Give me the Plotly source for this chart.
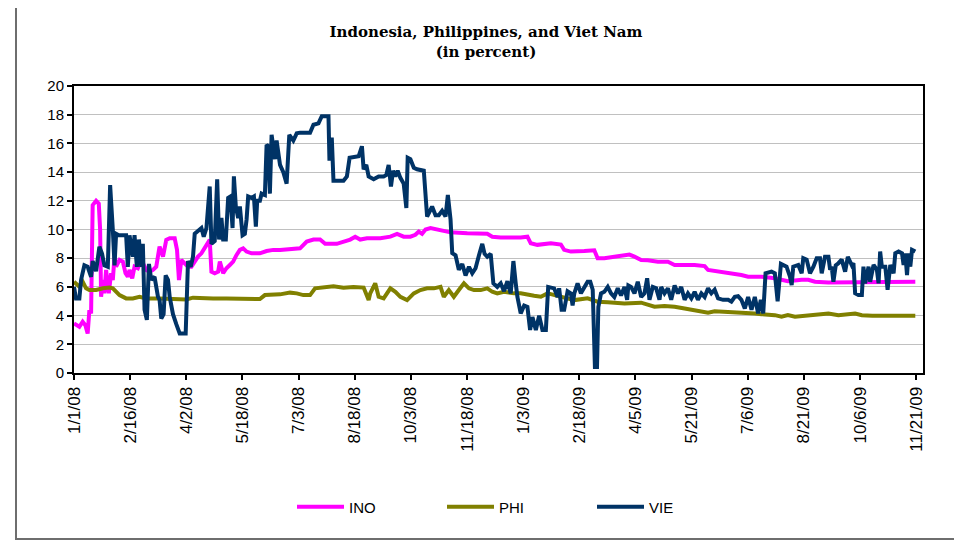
import pandas as pd
import plotly.graph_objects as go

START = pd.Timestamp("2008-01-01")

# Day offsets from 1/1/08 and values (percent)
INO_days = [0, 4.4, 7.1, 9.3, 11.2, 12.6, 14.0, 15.3, 18.1, 20.3,
            21.4, 22.2, 23.6, 24.9, 26.3, 28.5, 30.4, 31.8, 33.2, 34.5,
            37.3, 40.0, 42.2, 44.1, 45.5, 47.7, 49.6, 52.3, 55.1, 59.2,
            61.9, 64.7, 67.4, 70.1, 72.9, 75.6, 78.4, 82.5, 84.4, 86.0,
            87.9, 90.7, 93.4, 96.2, 98.9, 101.6, 104.4, 107.1, 108.5, 111.2,
            112.6, 115.3, 118.1, 119.5, 122.2, 124.9, 127.7, 130.4, 133.2, 135.9,
            138.6, 141.4, 145.5, 152.3, 157.8, 163.3, 168.8, 179.7, 185.2, 190.7,
            196.2, 201.6, 205.8, 215.3, 220.8, 226.3, 230.4, 234.5, 240.0, 251.0,
            259.2, 264.7, 270.1, 275.6, 279.7, 282.5, 285.2, 288.0, 292.1, 297.5,
            303.0, 308.5, 322.2, 338.6, 342.7, 349.6, 366.0, 371.5, 374.2, 379.7,
            390.7, 398.9, 401.6, 407.1, 418.1, 426.3, 429.0, 434.5, 442.7, 455.1,
            459.2, 464.7, 470.1, 478.4, 486.6, 492.1, 508.5, 516.7, 519.5, 530.4,
            536.0, 546.8, 552.3, 563.3, 574.2, 579.7, 584.9, 596.2, 601.6, 607.1,
            618.1, 689.3]
INO_vals = [3.45, 3.22, 3.57, 3.33, 2.75, 4.38, 4.15, 11.7, 12.0, 11.8,
            10.0, 5.31, 6.48, 5.55, 7.18, 5.55, 6.95, 6.48, 8.11, 7.41,
            7.88, 7.76, 6.95, 6.71, 7.18, 6.6, 7.41, 7.3, 7.88, 7.18,
            7.06, 7.18, 7.41, 8.81, 8.11, 9.28, 9.39, 9.39, 8.58, 6.48,
            7.88, 7.65, 7.41, 7.41, 7.76, 8.11, 8.34, 8.69, 8.81, 9.28,
            7.06, 6.95, 7.06, 7.76, 6.95, 7.3, 7.53, 7.76, 8.23, 8.58,
            8.69, 8.46, 8.34, 8.34, 8.5, 8.58, 8.58, 8.69, 8.69, 9.16,
            9.3, 9.3, 9.0, 9.0, 9.16, 9.3, 9.5, 9.3, 9.39, 9.39,
            9.5, 9.7, 9.5, 9.5, 9.63, 9.86, 9.7, 10.0, 10.1, 10.0,
            9.9, 9.8, 9.74, 9.7, 9.5, 9.45, 9.45, 9.5, 9.04, 8.93,
            9.04, 8.95, 8.58, 8.46, 8.5, 8.55, 8.0, 8.0, 8.1, 8.25,
            8.11, 7.88, 7.85, 7.76, 7.76, 7.53, 7.53, 7.45, 7.18, 7.06,
            6.95, 6.83, 6.71, 6.71, 6.6, 6.48, 6.4, 6.5, 6.5, 6.36,
            6.3, 6.36]

PHI_days = [0, 4.4, 7.1, 9.9, 12.6, 18.1, 23.6, 29.0, 31.8, 34.5,
            37.3, 42.7, 48.2, 53.7, 59.2, 70.1, 83.8, 92.1, 97.5, 106.3,
            114.0, 124.9, 138.6, 152.3, 156.4, 163.3, 168.8, 177.0, 182.5, 187.9,
            193.4, 197.5, 204.4, 212.6, 220.8, 229.0, 237.3, 241.4, 242.7, 246.8,
            249.6, 253.7, 259.2, 263.3, 267.4, 272.9, 278.4, 283.8, 289.3, 294.8,
            300.3, 303.0, 307.1, 311.2, 315.3, 319.5, 323.6, 327.7, 333.2, 338.6,
            342.7, 346.8, 352.3, 360.5, 366.0, 371.5, 377.0, 382.5, 388.0, 390.7,
            398.9, 409.9, 420.8, 429.0, 437.3, 451.0, 464.7, 475.6, 483.8, 492.1,
            500.3, 508.5, 514.0, 519.5, 524.9, 533.2, 541.4, 549.6, 557.8, 563.3,
            574.2, 579.7, 584.9, 590.7, 596.2, 604.4, 612.6, 618.1, 626.3, 634.5,
            640.0, 645.5, 654.0, 689.3]
PHI_vals = [6.36, 6.01, 6.36, 5.9, 5.78, 5.78, 5.9, 5.95, 5.9, 5.66,
            5.43, 5.2, 5.2, 5.31, 5.2, 5.2, 5.2, 5.13, 5.25, 5.2,
            5.2, 5.2, 5.15, 5.15, 5.43, 5.43, 5.48, 5.6, 5.55, 5.43,
            5.43, 5.9, 5.95, 6.05, 5.95, 6.0, 5.95, 5.08, 5.55, 6.25,
            5.31, 5.2, 5.9, 5.66, 5.31, 5.08, 5.55, 5.78, 5.9, 5.9,
            6.01, 5.31, 5.78, 5.31, 5.78, 6.25, 5.9, 5.78, 5.78, 5.9,
            5.66, 5.55, 5.66, 5.55, 5.55, 5.43, 5.38, 5.31, 5.55, 5.5,
            5.31, 5.08, 5.2, 4.97, 4.93, 4.85, 4.9, 4.62, 4.67, 4.62,
            4.5, 4.38, 4.3, 4.2, 4.3, 4.27, 4.27, 4.2, 4.15, 4.1,
            4.03, 3.92, 4.03, 3.92, 3.96, 4.03, 4.15, 4.15, 4.03, 4.1,
            4.15, 4.03, 3.99, 3.99]

VIE_days = [0, 1.6, 4.4, 5.8, 8.5, 11.2, 14.0, 15.3, 18.1, 20.8,
            23.0, 24.9, 27.7, 29.6, 31.8, 33.2, 34.5, 36.7, 42.7, 44.1,
            45.5, 48.2, 49.6, 51.5, 53.2, 55.1, 56.4, 57.8, 59.7, 61.4,
            63.3, 66.0, 68.8, 70.1, 71.5, 73.4, 75.1, 77.0, 78.4, 81.1,
            83.8, 86.6, 91.5, 93.4, 95.6, 97.5, 98.9, 101.6, 104.4, 106.3,
            108.5, 111.2, 112.6, 115.3, 117.3, 118.9, 120.8, 122.2, 124.4, 126.3,
            128.2, 129.9, 131.0, 132.6, 134.5, 135.9, 138.1, 140.0, 141.4, 142.7,
            145.5, 147.4, 149.0, 150.1, 152.3, 153.7, 156.4, 157.8, 159.2, 160.5,
            161.9, 164.7, 166.0, 168.8, 171.5, 174.2, 176.4, 179.7, 182.5, 185.2,
            193.4, 196.2, 200.3, 203.0, 208.5, 209.3, 211.2, 212.6, 220.8, 223.6,
            225.8, 233.2, 235.9, 237.3, 239.5, 241.4, 245.5, 249.6, 253.7, 255.9,
            257.8, 259.7, 261.4, 263.3, 265.2, 267.4, 270.1, 272.3, 273.4, 275.6,
            278.4, 281.1, 286.6, 289.3, 293.4, 296.2, 298.9, 301.6, 304.4, 306.3,
            308.5, 309.9, 312.6, 315.3, 318.1, 320.8, 323.6, 326.3, 329.0, 331.8,
            334.5, 336.4, 338.6, 341.4, 343.6, 346.8, 349.6, 352.3, 355.1, 357.8,
            360.0, 361.9, 363.3, 366.0, 368.8, 371.5, 373.7, 375.6, 378.4, 381.1,
            383.8, 386.6, 388.5, 393.4, 396.2, 397.5, 399.5, 401.6, 404.4, 407.1,
            408.5, 409.9, 412.6, 415.3, 418.1, 420.8, 423.0, 425.0, 426.8, 428.5,
            429.6, 431.8, 434.5, 437.3, 440.0, 442.7, 445.5, 448.2, 451.0, 453.2,
            454.2, 456.4, 459.2, 461.9, 464.7, 467.4, 469.6, 471.5, 474.2, 477.0,
            479.7, 481.1, 483.8, 486.6, 489.3, 492.1, 494.8, 497.5, 500.3, 503.0,
            505.8, 508.5, 511.2, 514.0, 516.7, 519.5, 522.2, 524.9, 527.7, 531.8,
            536.0, 538.6, 541.4, 544.1, 546.8, 549.6, 552.3, 555.1, 557.8, 560.5,
            562.7, 564.7, 566.6, 571.5, 574.2, 576.5, 579.2, 581.1, 583.8, 586.6,
            588.0, 589.3, 593.4, 596.2, 597.5, 600.3, 603.0, 605.8, 608.5, 611.2,
            612.6, 615.3, 618.1, 619.5, 620.8, 622.2, 624.1, 626.3, 629.0, 631.8,
            634.0, 637.3, 638.6, 640.0, 642.7, 645.5, 646.8, 648.2, 651.0, 652.3,
            655.1, 657.8, 659.2, 660.5, 661.9, 664.7, 666.6, 668.8, 671.5, 672.9,
            675.6, 678.4, 679.7, 681.1, 682.5, 683.8, 685.2, 686.6, 689.3]
VIE_vals = [6.0, 5.2, 5.2, 6.5, 7.5, 7.4, 6.7, 7.8, 7.1, 8.8,
            8.3, 7.5, 7.4, 13.1, 10.0, 7.5, 9.7, 9.6, 9.6, 7.4,
            9.6, 8.1, 9.6, 7.4, 9.3, 7.4, 9.0, 4.4, 3.7, 7.6,
            6.5, 6.7, 5.3, 5.1, 3.8, 4.1, 6.8, 6.5, 5.3, 4.1,
            3.4, 2.75, 2.75, 7.8, 7.4, 8.1, 9.7, 9.9, 10.1, 9.5,
            10.1, 13.0, 9.0, 9.2, 13.5, 9.3, 10.8, 9.3, 9.3, 12.2,
            12.3, 10.1, 13.7, 11.6, 10.8, 11.6, 9.6, 9.7, 10.7, 12.3,
            12.2, 12.3, 10.2, 12.0, 12.0, 12.5, 12.4, 15.9, 15.8, 12.5,
            16.6, 14.9, 16.2, 14.5, 14.0, 13.2, 16.6, 16.2, 16.7, 16.75,
            16.74, 17.3, 17.4, 17.9, 17.9, 14.8, 16.4, 13.4, 13.4, 13.7,
            15.0, 15.1, 15.8, 14.2, 14.5, 13.7, 13.5, 13.7, 13.7, 13.8,
            14.5, 13.0, 14.1, 13.7, 14.1, 13.6, 13.2, 11.5, 15.0, 14.9,
            14.3, 14.2, 14.1, 10.9, 11.6, 11.0, 11.0, 11.3, 10.9, 12.4,
            10.7, 8.35, 8.2, 7.2, 7.6, 6.8, 7.4, 6.95, 7.3, 8.2,
            9.0, 8.3, 8.1, 8.3, 6.25, 6.0, 6.25, 5.7, 6.4, 5.55,
            7.8, 6.25, 5.3, 4.15, 4.7, 4.6, 3.0, 3.9, 3.0, 4.0,
            3.0, 3.0, 6.0, 5.9, 5.3, 5.9, 4.4, 4.4, 5.7, 5.55,
            4.7, 5.55, 6.25, 5.55, 5.9, 6.36, 6.36, 5.8, 0.42, 0.42,
            4.6, 5.55, 5.66, 6.0, 5.55, 5.3, 5.9, 5.4, 6.0, 5.1,
            6.1, 6.0, 5.55, 6.36, 5.3, 5.55, 6.6, 5.1, 6.0, 5.9,
            5.1, 6.0, 5.55, 5.9, 5.1, 6.1, 5.55, 6.0, 5.1, 5.55,
            5.2, 5.66, 5.1, 5.55, 5.3, 5.9, 5.55, 5.8, 5.2, 5.1,
            5.1, 4.97, 5.31, 5.35, 5.1, 4.5, 5.3, 4.4, 5.3, 4.15,
            5.1, 4.15, 6.95, 7.06, 6.95, 5.0, 7.6, 7.53, 7.41, 6.71,
            6.13, 7.41, 7.53, 6.95, 8.0, 7.9, 6.95, 7.41, 8.0, 8.0,
            6.95, 8.1, 8.1, 7.2, 7.4, 6.36, 7.5, 7.65, 7.9, 7.06,
            8.1, 7.5, 7.65, 5.55, 5.43, 5.43, 7.41, 6.25, 7.41, 6.36,
            7.53, 7.2, 6.25, 8.46, 7.41, 7.41, 5.8, 7.53, 6.95, 8.34,
            8.46, 8.34, 7.53, 8.34, 6.83, 8.34, 7.41, 8.58, 8.46]

SERIES_NAMES = ["INO", "PHI", "VIE"]
SERIES_COLORS = ["#FF00FF", "#808000", "#003366"]

TICK_STEP_DAYS = 46
N_TICKS = 16
Y_TICKS = list(range(0, 21, 2))


def to_dates(days):
    return START + pd.to_timedelta(days, unit="D")


tick_dates = [START + pd.Timedelta(days=TICK_STEP_DAYS * i) for i in range(N_TICKS)]
tick_text = [f"{d.month}/{d.day}/{d.strftime('%y')}" for d in tick_dates]

fig = go.Figure()
for name, days, vals, col in zip(SERIES_NAMES,
                                 [INO_days, PHI_days, VIE_days],
                                 [INO_vals, PHI_vals, VIE_vals],
                                 SERIES_COLORS):
    fig.add_trace(go.Scatter(x=to_dates(days), y=vals, mode="lines", name=name,
                             line=dict(color=col, width=4)))

# page offset (body margin) and figure size
OFF = 8
W, H = 954, 532
# plot area in page pixels: x 74..923, y 86..373
L = 74 - OFF
T = 86 - OFF
R = W - (923 - OFF)
B = H - (373 - OFF)
pw = W - L - R
ph = H - T - B


def px_x(p):
    return (p - OFF - L) / pw


def px_y(p):
    return (H - B - (p - OFF)) / ph


fig.update_layout(
    width=W, height=H,
    margin=dict(l=L, r=R, t=T, b=B),
    paper_bgcolor="white", plot_bgcolor="white",
    title=dict(text="<b>Indonesia, Philippines, and Viet Nam</b><br><b>(in percent)</b>",
               font=dict(family="DejaVu Serif", size=15, color="black"),
               x=(486 - OFF) / W, xanchor="center", xref="container",
               y=1 - (37 - OFF) / H, yanchor="middle", yref="container"),
    font=dict(family="Liberation Sans, Arial", color="black"),
    showlegend=True,
    legend=dict(orientation="h", x=px_x(292), xanchor="left",
                y=px_y(507), yanchor="middle",
                font=dict(size=15, family="Liberation Sans, Arial", color="black"),
                entrywidth=88, entrywidthmode="pixels", itemwidth=47,
                bgcolor="rgba(0,0,0,0)"),
    xaxis=dict(type="date",
               range=[START, START + pd.Timedelta(days=695.6)],
               tickmode="array", tickvals=tick_dates, ticktext=tick_text,
               tickangle=-90, tickfont=dict(size=17, family="Liberation Sans, Arial"),
               ticks="outside", ticklen=5, tickcolor="black", tickwidth=1.5,
               showgrid=False, zeroline=False,
               showline=True, linecolor="black", linewidth=2, mirror=True),
    yaxis=dict(range=[0, 20], tickmode="array", tickvals=Y_TICKS,
               tickfont=dict(size=15, family="Liberation Sans, Arial"),
               ticks="outside", ticklen=5, tickcolor="black", tickwidth=1.5,
               showgrid=True, gridcolor="#c0c0c0", gridwidth=1, zeroline=False,
               showline=True, linecolor="black", linewidth=2, mirror=True),
    shapes=[dict(type="rect", xref="paper", yref="paper",
                 x0=px_x(16), x1=px_x(955), y0=px_y(539), y1=px_y(-3),
                 line=dict(color="#6e6e6e", width=2), fillcolor="rgba(0,0,0,0)",
                 layer="above")],
)

fig.write_html("out.html")
